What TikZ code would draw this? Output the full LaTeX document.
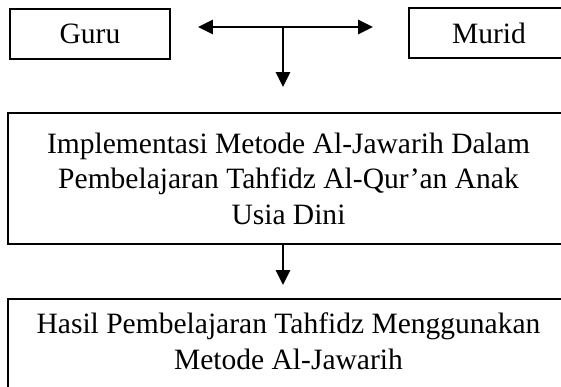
\documentclass[tikz,border=0pt]{standalone}
\usepackage{fontspec}
\setmainfont{Liberation Serif}
\usepackage{tikz}
\usetikzlibrary{arrows.meta}

\begin{document}
\begin{tikzpicture}[scale=1, >={Triangle[length=10.5pt,width=10pt]},
    kotak/.style={draw, line width=1.1pt, inner sep=0pt, align=center,
      font=\fontsize{21}{25.2}\selectfont},
    panah/.style={line width=1.4pt, ->}]
      \useasboundingbox (0,0) rectangle (14.025,9.675);
      \node (guru) at (2.25,8.825) [kotak, minimum width=4cm, minimum height=1.25cm] {Guru};
      \node (murid) at (12.225,8.85) [kotak, minimum width=4cm, minimum height=1.25cm] {Murid};
      \node (impl) at (7.2125,5.2125) [kotak, line width=1.5pt, minimum width=14.025cm, minimum height=3.275cm]
        {Implementasi Metode Al-Jawarih Dalam\\ Pembelajaran Tahfidz Al-Qur’an Anak\\ Usia Dini};
      \node (hasil) at (7.2125,2.225) [kotak, line width=1.5pt, anchor=north, minimum width=14.025cm,
        inner ysep=10pt, text depth=2cm]
        {Hasil Pembelajaran Tahfidz Menggunakan\\ Metode Al-Jawarih};
      \coordinate (kiri) at (4.95,9);
      \coordinate (kanan) at (9.325,9);
      \coordinate (tengah) at (7.075,9);
      \coordinate (bawah) at (7.075,7.5);
      \coordinate (ujung) at (7.075,2.55);
      \draw[panah, <->] (kiri) -- (kanan);
      \draw[panah] (tengah) -- (bawah);
      \draw[panah] (impl.south -| ujung) -- (ujung);
    \end{tikzpicture}
\end{document}
